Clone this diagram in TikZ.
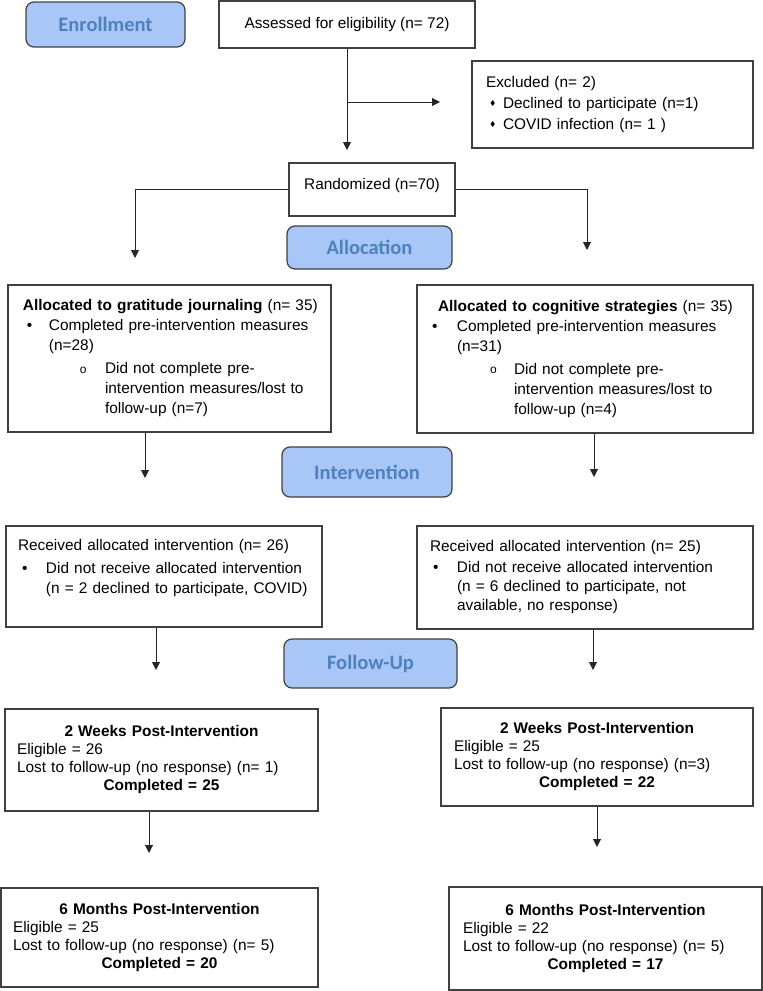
\documentclass[tikz,border=0pt]{standalone}
\usepackage{fontspec}
\usepackage{amssymb}
\setmainfont{Liberation Sans}
\newfontfamily\stagefont{Carlito}
\usetikzlibrary{arrows.meta}
\definecolor{stagefill}{RGB}{168,198,246}
\definecolor{stagetext}{RGB}{79,129,189}
\definecolor{edgegray}{RGB}{64,64,64}
% list helpers: indent, bullet cell, bullet
\newcommand{\itm}[3]{\hspace*{#1pt}\makebox[#2pt][l]{#3}}
\newcommand{\cont}[1]{\hspace*{#1pt}}
\newcommand{\dmd}{\raisebox{2.5pt}{\fontsize{7}{7}\selectfont$\blacklozenge$}}
\newcommand{\subo}{\raisebox{0.5pt}{\fontsize{12}{12}\selectfont o}}
\newcommand{\ctrline}[2]{\makebox[#1pt]{#2}}
\tikzset{
  stage/.style={draw=edgegray, line width=1.2pt, rounded corners=8pt, fill=stagefill,
    text=stagetext, font={\stagefont\fontsize{20.5}{24}\selectfont\bfseries}},
  box/.style={draw=edgegray, line width=1.1pt, fill=white, align=left, inner ysep=0pt,
    font={\fontsize{15.4}{20}\selectfont}},
  arr/.style={-{Triangle[width=8pt,length=8pt]}, line width=1pt, draw=black!85}
}
\begin{document}
\begin{tikzpicture}[x=1pt, y=-1pt]
  \useasboundingbox (0,0) rectangle (763,991);
  % stages
  \node[stage, minimum width=159pt, minimum height=45pt] (enrol) at (105.5,24.5) {Enrollment};
  \node[stage, minimum width=165pt, minimum height=43pt] (alloc) at (369.5,247.5) {Allocation};
  \node[stage, minimum width=170pt, minimum height=50pt] (interv) at (367,472) {Intervention};
  \node[stage, minimum width=173pt, minimum height=49pt] (follow) at (370.5,663.5) {Follow-Up};
  % enrollment
  \node[box, align=center, minimum width=256pt, minimum height=47pt] (assess) at (347,24.5)
    {Assessed for eligibility (n= 72)};
  \node[box, inner xsep=14pt, text width=253pt, minimum height=87pt,
    font={\fontsize{15.4}{21}\selectfont}] (excl) at (612.5,104.5)
    {Excluded (n= 2)\\
     \itm{4}{13}{\dmd}Declined to participate (n=1)\\
     \itm{4}{13}{\dmd}COVID infection (n= 1 )};
  \node[box, align=center, minimum width=166pt, minimum height=53pt, text depth=12pt] (rand) at (372,189.5)
    {Randomized (n=70)};
  % allocation
  \node[box, inner xsep=15pt, text width=293pt, minimum height=147pt] (gratalloc) at (169.5,358.5)
    {\mbox{\textbf{Allocated to gratitude journaling} (n= 35)}\\
     \itm{4}{22}{\textbullet}Completed pre-intervention measures\\
     \cont{26}(n=28)\\[3pt]
     \itm{57}{25}{\subo}Did not complete pre-\\
     \cont{82}intervention measures/lost to\\
     \cont{82}follow-up (n=7)};
  \node[box, inner xsep=15pt, text width=306pt, minimum height=148pt] (cogalloc) at (585,359)
    {\hspace*{6pt}\textbf{Allocated to cognitive strategies} (n= 35)\\
     \itm{0}{25}{\textbullet}Completed pre-intervention measures\\
     \cont{25}(n=31)\\[3pt]
     \itm{58}{24}{\subo}Did not complete pre-\\
     \cont{82}intervention measures/lost to\\
     \cont{82}follow-up (n=4)};
  % intervention
  \node[box, inner xsep=12pt, text width=292pt, minimum height=101pt] (gratrec) at (164,576.5)
    {Received allocated intervention (n= 26)\\[3pt]
     \itm{4}{24}{\textbullet}Did not receive allocated intervention\\
     \cont{28}(n = 2 declined to participate, COVID)\\
     \mbox{}};
  \node[box, inner xsep=13pt, text width=310pt, minimum height=103pt,
    font={\fontsize{15.4}{19}\selectfont}] (cogrec) at (585,577.5)
    {Received allocated intervention (n= 25)\\[2pt]
     \itm{3}{24}{\textbullet}Did not receive allocated intervention\\
     \cont{27}(n = 6 declined to participate, not\\
     \cont{27}available, no response)};
  % follow-up
  \node[box, inner xsep=12pt, text width=289pt, minimum height=102pt,
    font={\fontsize{15.4}{18}\selectfont}] (grattwo) at (161.5,760)
    {\ctrline{289}{\textbf{2 Weeks Post-Intervention}}\\
     Eligible = 26\\
     Lost to follow-up (no response) (n= 1)\\
     \ctrline{289}{\textbf{Completed = 25}}};
  \node[box, inner xsep=13pt, text width=286pt, minimum height=98pt,
    font={\fontsize{15.4}{18}\selectfont}] (cogtwo) at (597,757)
    {\ctrline{286}{\textbf{2 Weeks Post-Intervention}}\\
     Eligible = 25\\
     Lost to follow-up (no response) (n=3)\\
     \ctrline{286}{\textbf{Completed = 22}}};
  \node[box, inner xsep=12pt, text width=293pt, minimum height=99pt,
    font={\fontsize{15.4}{18}\selectfont}] (gratsix) at (159.5,937.5)
    {\ctrline{293}{\textbf{6 Months Post-Intervention}}\\
     Eligible = 25\\
     Lost to follow-up (no response) (n= 5)\\
     \ctrline{293}{\textbf{Completed = 20}}};
  \node[box, inner xsep=14pt, text width=285pt, minimum height=103pt,
    font={\fontsize{15.4}{18}\selectfont}] (cogsix) at (605.5,938.5)
    {\ctrline{285}{\textbf{6 Months Post-Intervention}}\\
     Eligible = 22\\
     Lost to follow-up (no response) (n= 5)\\
     \ctrline{285}{\textbf{Completed = 17}}};
  % arrow ends
  \coordinate (randin) at (347,150);
  \coordinate (exsplit) at (347,102);
  \coordinate (exin) at (440,102);
  \coordinate (gratin) at (135,258);
  \coordinate (cogin) at (587,250);
  \coordinate (gratint) at (145,478);
  \coordinate (cogint) at (594,477);
  \coordinate (gratfol) at (156,670);
  \coordinate (cogfol) at (593,670);
  \coordinate (gratlate) at (149,853);
  \coordinate (coglate) at (597,847);
  % connectors
  \draw[arr] (assess.south) -- (randin);
  \draw[arr] (exsplit) -- (exin);
  \draw[arr] (rand.west) -| (gratin);
  \draw[arr] (rand.east) -| (cogin);
  \draw[arr] (gratalloc.south -| gratint) -- (gratint);
  \draw[arr] (cogalloc.south -| cogint) -- (cogint);
  \draw[arr] (gratrec.south -| gratfol) -- (gratfol);
  \draw[arr] (cogrec.south -| cogfol) -- (cogfol);
  \draw[arr] (grattwo.south -| gratlate) -- (gratlate);
  \draw[arr] (cogtwo.south -| coglate) -- (coglate);
\end{tikzpicture}
\end{document}
